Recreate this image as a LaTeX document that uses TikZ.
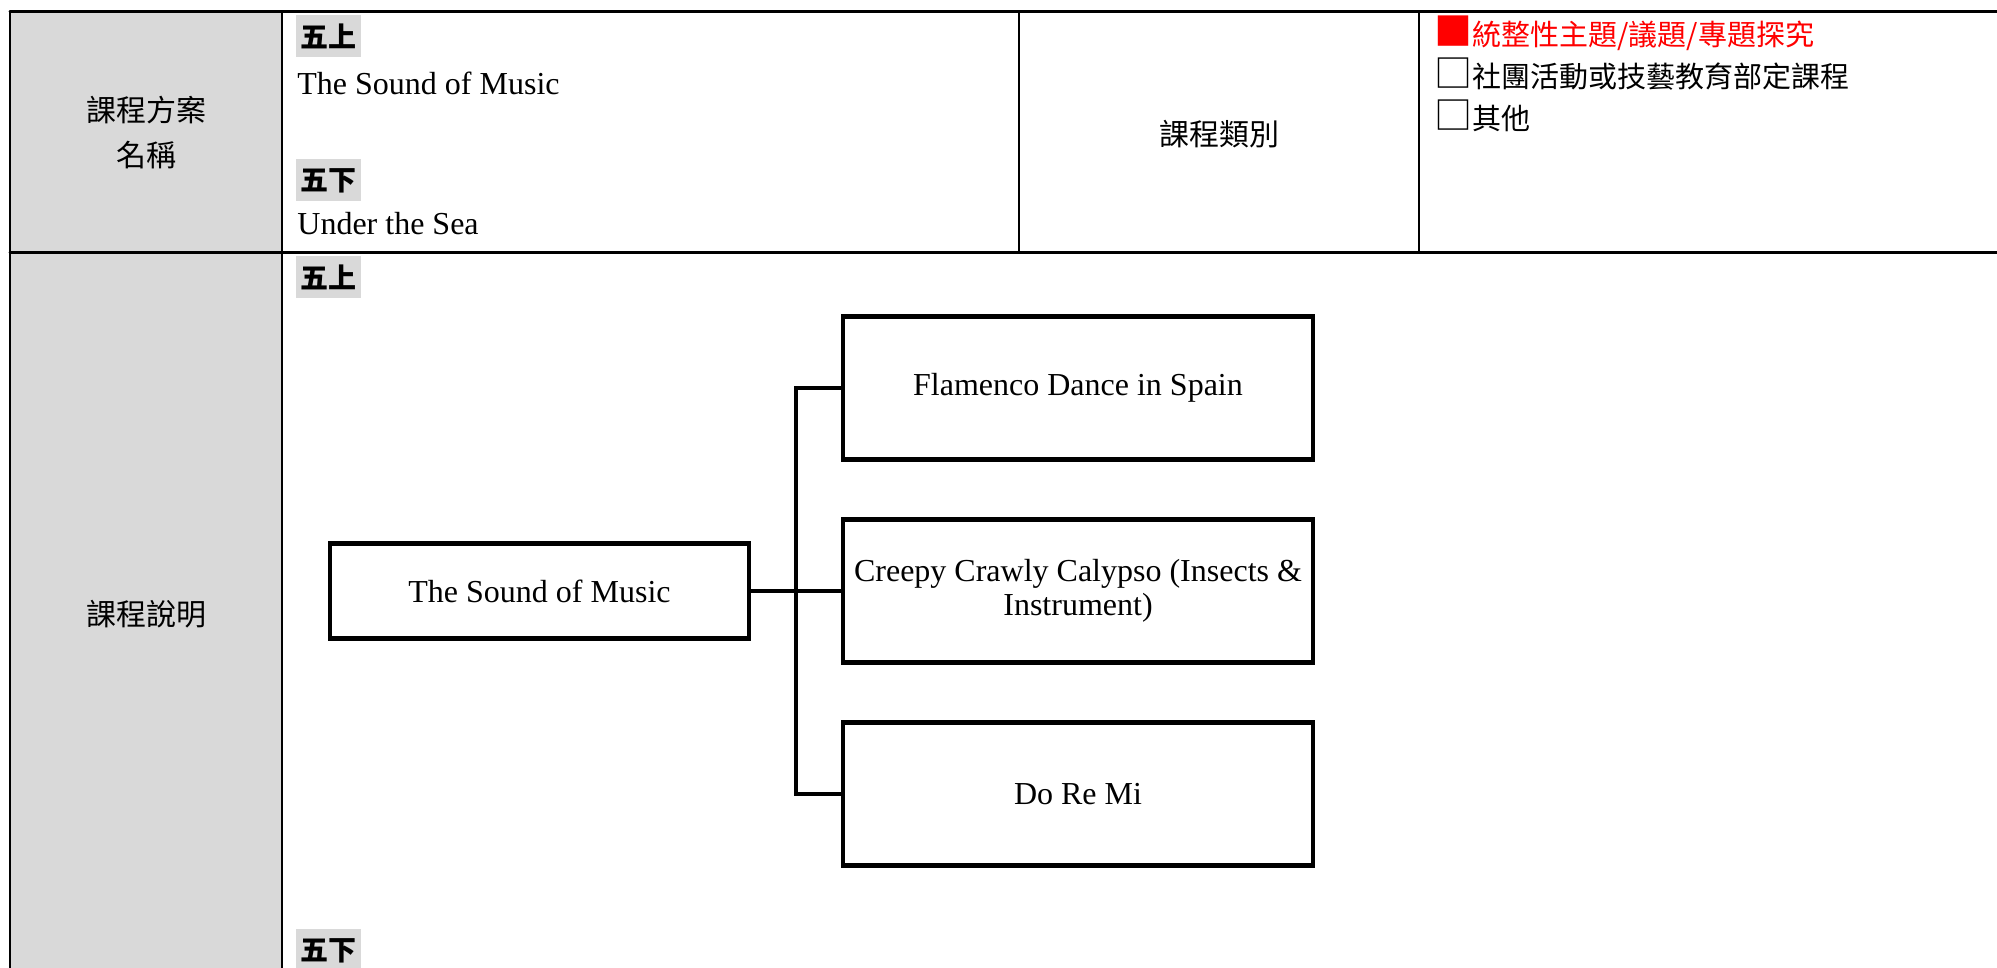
\documentclass[tikz,border=0pt]{standalone}
\usepackage{fontspec}
\usepackage{tkz-euclide}
\usetikzlibrary{positioning}
\setmainfont{Liberation Serif}
\newfontfamily\cjk{Noto Sans CJK TC}
\definecolor{cellgray}{RGB}{217,217,217}
\newcommand\tickbox[1]{{\fontsize{19}{14.5}\selectfont#1}}
\tikzset{>=stealth}

\begin{document}
\begin{tikzpicture}[x=0.5pt, y=-0.5pt,
    cellhead/.style={font=\cjk\fontsize{15}{22.5}\selectfont, align=center},
    grade/.style={fill=cellgray, font=\cjk\bfseries\fontsize{14}{14}\selectfont,
      inner sep=0pt, minimum width=32.5pt, minimum height=21pt, anchor=north west},
    entry/.style={font=\fontsize{16}{16}\selectfont, inner sep=0pt, anchor=base west},
    choice/.style={font=\cjk\fontsize{14.5}{14.5}\selectfont, inner sep=0pt, anchor=west},
    topic/.style={draw, line width=2.4pt, outer sep=0pt, align=center,
      font=\fontsize{16}{17}\selectfont, minimum width=235pt, minimum height=71.5pt},
    link/.style={line width=2pt}]
    \useasboundingbox (0,0) rectangle (1997,968);
    \tkzDefPoints{10/11.7/A, 1997/11.7/B, 10/253/C, 1997/253/D, 10/968/E,
      282/11.7/F, 282/968/G, 1019/11.7/H, 1019/253/I, 1419/11.7/J, 1419/253/K}
    \fill[cellgray] (A) rectangle (G);
    \tkzDrawSegments[line width=1.5pt](A,B C,D)
    \tkzDrawSegments[line width=1pt](A,E F,G H,I J,K)
    \node[cellhead] (planname) at (146,133) {課程方案\\名稱};
    \node[cellhead] (kind) at (1219,134) {課程類別};
    \node[cellhead] (about) at (146,614) {課程說明};
    \node[grade] (upA) at (296,15) {五上};
    \node[entry] (nameA) at (297,95) {The Sound of Music};
    \node[grade] (downA) at (296,159) {五下};
    \node[entry] (nameB) at (297,235) {Under the Sea};
    \node[choice, red] (optA) at (1434,33) {\tickbox{■}統整性主題/議題/專題探究};
    \node[choice] (optB) at (1434,74) {\tickbox{□}社團活動或技藝教育部定課程};
    \node[choice] (optC) at (1434,116) {\tickbox{□}其他};
    \node[grade] (upB) at (296,256) {五上};
    \node[grade] (downB) at (296,929) {五下};
  % tree of units
    \node[topic] (mid) at (1078,591) {Creepy Crawly Calypso (Insects \&\\Instrument)};
    \node[topic, above=30pt of mid] (top) {Flamenco Dance in Spain};
    \node[topic, below=30pt of mid] (low) {Do Re Mi};
    \node[topic, minimum width=209.5pt, minimum height=47.5pt, left=47pt of mid] (root) {The Sound of Music};
    \path (root.east) -- (mid.west) coordinate[pos=0.5] (hub);
    \draw[link] (root.east) -- (mid.west);
    \draw[link] (hub) |- (top.west);
    \draw[link] (hub) |- (low.west);
\end{tikzpicture}
\end{document}
